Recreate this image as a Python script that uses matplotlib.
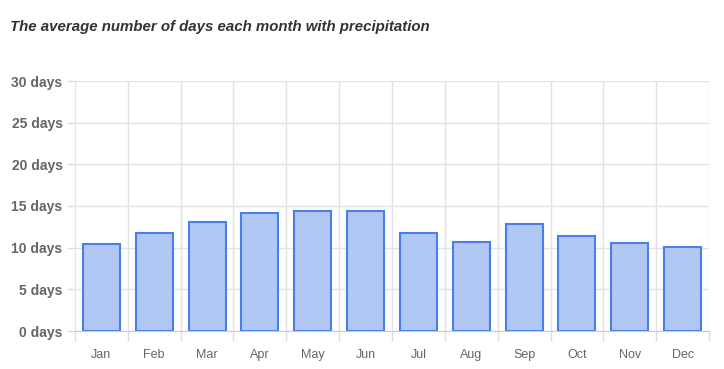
import matplotlib
matplotlib.use("Agg")
import matplotlib.pyplot as plt
import numpy as np

months = ["Jan", "Feb", "Mar", "Apr", "May", "Jun",
          "Jul", "Aug", "Sep", "Oct", "Nov", "Dec"]
precip_days = [10.4, 11.8, 13.1, 14.2, 14.4, 14.4,
               11.8, 10.7, 12.8, 11.4, 10.6, 10.1]
y_ticks = [0, 5, 10, 15, 20, 25, 30]

plt.rcParams["font.family"] = ["Liberation Sans", "DejaVu Sans"]

W, H = 724, 369
fig = plt.figure(figsize=(W / 100, H / 100), dpi=100)
ax = fig.add_axes([75 / W, 1 - 331 / H, (709 - 75) / W, (331 - 81) / H])

x = np.arange(len(months))
ax.bar(x, precip_days, width=0.7, color="#b1c8f5", edgecolor="#4a7fe9",
       linewidth=1.5, zorder=3)

ax.set_xlim(-0.5, len(months) - 0.5)
ax.set_ylim(0, 30)

ax.set_yticks(y_ticks)
ax.set_yticklabels([f"{v} days" for v in y_ticks], fontsize=10,
                   fontweight="bold", color="#666666")
ax.set_xticks(x)
ax.set_xticklabels(months, fontsize=9, color="#666666")
ax.set_xticks(np.arange(len(months) + 1) - 0.5, minor=True)

ax.tick_params(axis="x", which="major", length=0, pad=13)
ax.tick_params(axis="x", which="minor", length=7, color="#dddddd", width=1)
ax.tick_params(axis="y", length=6, color="#dddddd", width=1, pad=3)

ax.grid(axis="y", color="#e3e3e3", linewidth=1, zorder=0)
ax.grid(axis="x", which="minor", color="#e3e3e3", linewidth=1, zorder=0)

for side in ["top", "right", "left"]:
    ax.spines[side].set_visible(False)
ax.spines["bottom"].set_color("#cccccc")
ax.spines["bottom"].set_zorder(4)

fig.text(10 / W, 1 - 27 / H, "The average number of days each month with precipitation",
         fontsize=10.8, fontweight="bold", fontstyle="italic", color="#333333",
         va="center", ha="left")

fig.savefig("out.png", dpi=100)
